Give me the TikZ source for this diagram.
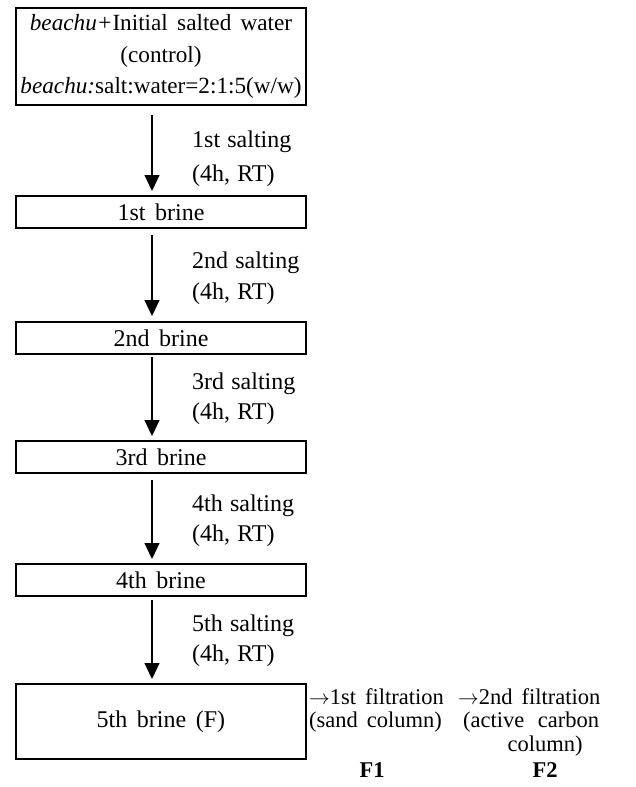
\documentclass[tikz,border=0pt]{standalone}
\usepackage{fontspec}
\setmainfont{Liberation Serif}
\usetikzlibrary{arrows.meta}
\begin{document}
\begin{tikzpicture}[x=1pt,y=-1pt,
  every node/.style={font=\fontsize{24}{31.5}\selectfont},
  box/.style={draw,line width=1.9pt,minimum width=290pt,inner sep=0pt,anchor=north},
  flow/.style={line width=1.1pt,-{Triangle[length=16pt,width=15pt]}},
  lab/.style={anchor=west,inner sep=0pt},
  side/.style={inner sep=0pt,font=\fontsize{22.5}{26}\selectfont}]
\useasboundingbox (0,0) rectangle (636,787);
% boxes
\node[box,minimum height=97pt,align=center,font=\fontsize{23.2}{31.5}\selectfont] (b0) at (161,7)
  {\textit{beachu+}Initial\hspace{0.4em}salted\hspace{0.4em}water\\(control)\\\textit{beachu:}salt:water=2:1:5(w/w)};
\node[box,minimum height=32pt] (b1) at (161,195) {1st\hspace{0.4em}brine};
\node[box,minimum height=32pt] (b2) at (161,321) {2nd\hspace{0.4em}brine};
\node[box,minimum height=32pt] (b3) at (161,440) {3rd\hspace{0.4em}brine};
\node[box,minimum height=32pt] (b4) at (161,563) {4th\hspace{0.4em}brine};
\node[box,minimum height=75pt] (b5) at (161,683) {5th\hspace{0.4em}brine\hspace{0.4em}(F)};
% arrows
\coordinate (s1) at (152,115); \coordinate (e1) at (152,191);
\coordinate (s2) at (152,235); \coordinate (e2) at (152,316);
\coordinate (s3) at (152,357); \coordinate (e3) at (152,436);
\coordinate (s4) at (152,480); \coordinate (e4) at (152,559);
\coordinate (s5) at (152,600); \coordinate (e5) at (152,679);
\draw[flow] (s1) -- (e1);
\draw[flow] (s2) -- (e2);
\draw[flow] (s3) -- (e3);
\draw[flow] (s4) -- (e4);
\draw[flow] (s5) -- (e5);
% labels
\node[lab] (l1a) at (192,142) {1st\hspace{0.3em}salting};
\node[lab] (l1b) at (192,176) {(4h,\hspace{0.3em}RT)};
\node[lab] (l2a) at (192,263) {2nd\hspace{0.3em}salting};
\node[lab] (l2b) at (192,294) {(4h,\hspace{0.3em}RT)};
\node[lab] (l3a) at (192,384) {3rd\hspace{0.3em}salting};
\node[lab] (l3b) at (192,414) {(4h,\hspace{0.3em}RT)};
\node[lab] (l4a) at (192,506) {4th\hspace{0.3em}salting};
\node[lab] (l4b) at (192,536) {(4h,\hspace{0.3em}RT)};
\node[lab] (l5a) at (192,626) {5th\hspace{0.3em}salting};
\node[lab] (l5b) at (192,656) {(4h,\hspace{0.3em}RT)};
% right side
\node[side,anchor=west] (f1a) at (309,697) {$\rightarrow$1st\hspace{0.4em}filtration};
\node[side,anchor=west] (f1b) at (309,722) {(sand\hspace{0.4em}column)};
\node[side,anchor=west] (f2a) at (458,697) {$\rightarrow$2nd\hspace{0.4em}filtration};
\node[side,anchor=west] (f2b) at (463,722) {(active\hspace{0.6em}carbon};
\node[side] (f2c) at (545,746) {column)};
\node[side,font=\fontsize{22.5}{26}\selectfont\bfseries] (F1) at (372,770) {F1};
\node[side,font=\fontsize{22.5}{26}\selectfont\bfseries] (F2) at (545,770) {F2};
\end{tikzpicture}
\end{document}
